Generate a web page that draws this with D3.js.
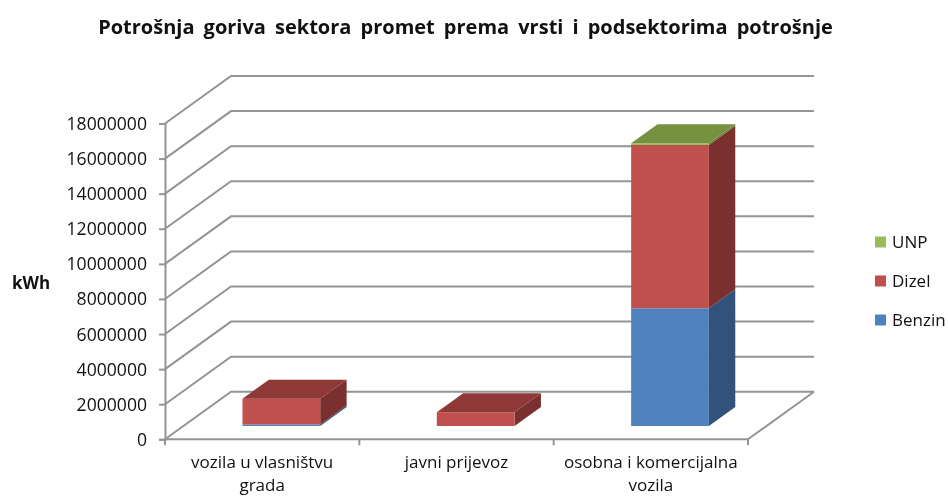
<!DOCTYPE html>
<html><head><meta charset="utf-8">
<script src="https://cdn.jsdelivr.net/npm/d3@7/dist/d3.min.js"></script>
<style>
html,body{margin:0;padding:0;background:#fff}
svg{display:block;filter:blur(.35px)}
text{font-family:"Open Sans",sans-serif;fill:#111}
</style></head><body><div id="c"></div>
<script>
const categories=[["vozila u vlasništvu","grada"],["javni prijevoz"],["osobna i komercijalna","vozila"]];
const seriesNames=["Benzin","Dizel","UNP"];
const benzin=[90000,0,6710000];
const dizel=[1470000,780000,9300000];
const unp=[0,0,100000];
const yTicks=[0,2000000,4000000,6000000,8000000,10000000,12000000,14000000,16000000,18000000];
const frontColors=["#4F81BD","#C0504D","#9BBB59"];
const sideColors=["#31527A","#7A302E","#637A37"];
const topColors=["#3C6390","#8E3937","#76913F"];

const W=948,H=496;
const svg=d3.select("#c").append("svg").attr("width",W).attr("height",H);
const x=d3.scaleBand().domain(d3.range(3)).range([165,748]).paddingInner(.6).paddingOuter(.3);
const catX=d3.scaleBand().domain(d3.range(3)).range([165,748]);
const y=d3.scaleLinear().domain([0,18000000]).range([439.3,123.5]);
const depth={x:66,y:-47.5};
const barDepthStart=.28,barDepthEnd=.68;
const grey="#949494";
const poly=(pts,fill)=>svg.append("polygon").attr("points",pts.map(p=>p.join(",")).join(" ")).attr("fill",fill);

const grid=svg.append("g").attr("fill","none").attr("stroke",grey).attr("stroke-width",2);
yTicks.forEach(t=>{
  const p=y(t);
  grid.append("path").attr("d",d3.line()([[165,p],[165+depth.x,p+depth.y],[748+depth.x,p+depth.y]]));
});
grid.append("path").attr("d",d3.line()([[814,439.3+depth.y],[748,439.3]]));

const yAxis=svg.append("g").attr("transform","translate(165,0)")
  .call(d3.axisLeft(y).tickValues(yTicks).tickFormat(d3.format("d")).tickSize(6).tickPadding(12));
const xAxis=svg.append("g").attr("transform","translate(0,439.3)")
  .call(d3.axisBottom(catX).tickValues([]).tickSizeOuter(0));
[yAxis,xAxis].forEach(a=>{a.selectAll("path,line").attr("stroke",grey).attr("stroke-width",2);});
xAxis.select(".domain").attr("d","M164,0H748");
d3.range(4).forEach(i=>{
  const px=165+catX.step()*i;
  xAxis.append("line").attr("x1",px).attr("x2",px).attr("y1",0).attr("y2",6).attr("stroke",grey).attr("stroke-width",2);
});
yAxis.selectAll("text").attr("font-size",17.6).attr("fill","#111").attr("dy","0.34em").attr("font-family",'"Open Sans",sans-serif');

const dx0=depth.x*barDepthStart+.7,dy0=depth.y*barDepthStart,dx1=depth.x*barDepthEnd+.7,dy1=depth.y*barDepthEnd;
const values=[benzin,dizel,unp];
categories.forEach((c,i)=>{
  let base=0;
  const l=x(i)+dx0,r=x(i)+x.bandwidth()+dx0,bw=dx1-dx0,bh=dy1-dy0;
  const total=benzin[i]+dizel[i]+unp[i];
  values.forEach((s,k)=>{
    if(s[i]<=0)return;
    const b=y(base)+dy0,t=y(base+s[i])+dy0;
    poly([[r,b],[r+bw,b+bh],[r+bw,t+bh],[r,t]],sideColors[k]);
    poly([[l,b],[r,b],[r,t],[l,t]],frontColors[k]);
    base+=s[i];
    if(base>=total) poly([[l,t],[r,t],[r+bw,t+bh],[l+bw,t+bh]],topColors[k]);
  });
  const tx=svg.append("text").attr("text-anchor","middle").attr("font-size",17);
  c.forEach((line,j)=>tx.append("tspan").attr("x",catX(i)+catX.bandwidth()/2).attr("y",467.5+j*23.3).text(line));
});

svg.append("text").attr("x",465.5).attr("y",34).attr("text-anchor","middle").attr("font-size",20).attr("word-spacing",3.9).attr("font-weight",700).text("Potrošnja goriva sektora promet prema vrsti i podsektorima potrošnje");
svg.append("text").attr("x",12).attr("y",289).attr("font-size",17).attr("font-weight",700).text("kWh");

const legendY=d3.scalePoint().domain(["UNP","Dizel","Benzin"]).range([242,320]);
seriesNames.forEach((n,k)=>{
  svg.append("rect").attr("x",875).attr("y",legendY(n)-5.5).attr("width",11).attr("height",11).attr("fill",frontColors[k]);
  svg.append("text").attr("x",892).attr("y",legendY(n)+6).attr("font-size",17).text(n);
});
</script></body></html>
